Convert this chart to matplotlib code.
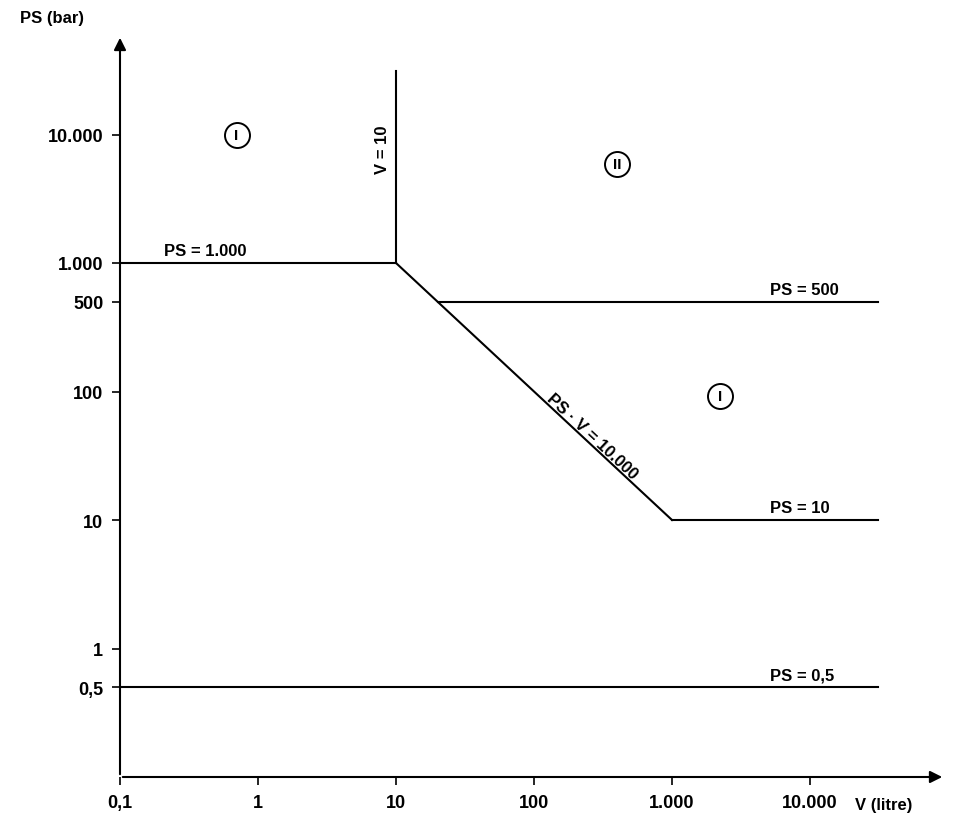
import matplotlib.pyplot as plt

x_ticks = [0.1, 1, 10, 100, 1000, 10000]
x_labels = ["0,1", "1", "10", "100", "1.000", "10.000"]
y_ticks = [0.5, 1, 10, 100, 500, 1000, 10000]
y_labels = ["0,5", "1", "10", "100", "500", "1.000", "10.000"]

v_end = 31000
ps_1000_v = [0.1, 10]
ps_1000 = [1000, 1000]
v10_v = [10, 10]
v10_ps = [1000, 31000]
diag_v = [10, 1000]
diag_ps = [1000, 10]
ps10_v = [1000, v_end]
ps500_v = [20, v_end]
ps05_v = [0.1, v_end]

zones = [("I", 0.7, 10000), ("II", 400, 5900), ("I", 2240, 93)]

plt.rcParams['font.family'] = ['Liberation Sans', 'DejaVu Sans']
fig = plt.figure(figsize=(9.61, 8.29), dpi=100)
ax = fig.add_axes((120/961, 51/829, 825/961, 742/829))
ax.set_xscale('log')
ax.set_yscale('log')
ax.set_xlim(0.1, 0.1 * 10**(825/138))
ax.set_ylim(0.1, 10**(1 + 742/128.5 - 2 + 1) / 10)
ax.set_ylim(0.1, 0.1 * 10**(742/128.5))
for s in ['top', 'right', 'left', 'bottom']:
    ax.spines[s].set_visible(False)
ax.annotate('', xy=(1, 0), xytext=(0, 0), xycoords='axes fraction',
            arrowprops=dict(arrowstyle='-|>', color='black', lw=1.5, mutation_scale=18))
ax.annotate('', xy=(0, 1), xytext=(0, 0), xycoords='axes fraction',
            arrowprops=dict(arrowstyle='-|>', color='black', lw=1.5, mutation_scale=18))

ax.set_xticks(x_ticks, x_labels)
ax.set_yticks(y_ticks, y_labels)
ax.minorticks_off()
ax.tick_params(length=6, width=1.2, labelsize=13, pad=6)
for lab in ax.get_xticklabels() + ax.get_yticklabels():
    lab.set_fontweight('bold')

kw = dict(color='black', lw=1.5)
ax.plot(ps_1000_v, ps_1000, **kw)
ax.plot(v10_v, v10_ps, **kw)
ax.plot(diag_v, diag_ps, **kw)
ax.plot(ps10_v, [10, 10], **kw)
ax.plot(ps500_v, [500, 500], **kw)
ax.plot(ps05_v, [0.5, 0.5], **kw)

tk = dict(fontsize=12, fontweight='bold')
ax.text(0.21, 1150, "PS = 1.000", **tk)
ax.text(5100, 570, "PS = 500", **tk)
ax.text(5100, 11.5, "PS = 10", **tk)
ax.text(5100, 0.57, "PS = 0,5", **tk)
ax.text(8.0, 7800, "V = 10", rotation=90, ha='center', va='center', **tk)
ax.text(265, 45, "PS · V = 10.000", rotation=-43, ha='center', va='center', **tk)
for name, zx, zy in zones:
    ax.plot(zx, zy, 'o', ms=18, mfc='none', mec='black', mew=1.4)
    ax.text(zx, zy, name, ha='center', va='center', fontsize=11, fontweight='bold')

fig.text(20/961, 1 - 18/829, "PS (bar)", va='center', **tk)
fig.text(855/961, 1 - 806/829, "V (litre)", va='center', **tk)
fig.savefig('out.png', dpi=100)
